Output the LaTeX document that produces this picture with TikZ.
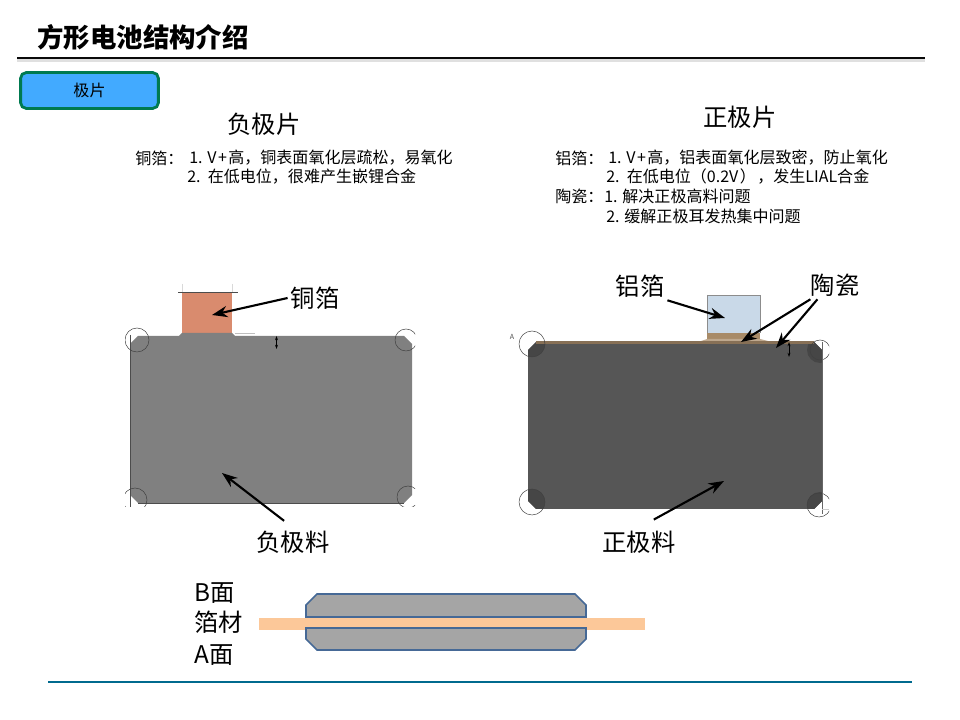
\documentclass[tikz,border=0pt]{standalone}
\usepackage{xcolor}
\usepackage{fontspec}
\setmainfont{Noto Sans CJK SC}
\usetikzlibrary{arrows.meta,positioning}
\definecolor{TitleRule}{RGB}{10,10,10}
\definecolor{TabBlue}{RGB}{66,170,255}
\definecolor{TabGreen}{RGB}{0,122,80}
\definecolor{CopperFoil}{RGB}{217,139,110}
\definecolor{AnodeGray}{RGB}{128,128,128}
\definecolor{CathodeGray}{RGB}{86,86,86}
\definecolor{CathodeDark}{RGB}{70,70,70}
\definecolor{AluFoil}{RGB}{201,217,232}
\definecolor{Ceramic}{RGB}{168,139,104}
\definecolor{CeramicDark}{RGB}{135,112,86}
\definecolor{CoatGray}{RGB}{165,165,165}
\definecolor{CoatEdge}{RGB}{70,105,150}
\definecolor{FoilOrange}{RGB}{252,200,153}
\definecolor{FootBlue}{RGB}{0,106,142}
\tikzset{
    listline/.style={anchor=west, inner sep=0pt, font=\fontsize{11.4}{13}\selectfont},
    bigtext/.style={inner sep=2pt, font=\fontsize{17.3}{20}\selectfont},
    callout/.style={-{Stealth[length=11pt,width=8pt]}, line width=1.5pt, black},
    marker/.style={black!75, line width=0.35pt}
}
\begin{document}
\begin{tikzpicture}[x=0.025cm, y=-0.025cm]
    \useasboundingbox (0,0) rectangle (960,720);

    \node [anchor=west, inner sep=0pt, font=\fontsize{18.8}{22}\selectfont\bfseries] (title) at (37,37) {方形电池结构介绍};
    \fill [black!12] (17,59) rectangle (925,62);
    \draw [TitleRule, line width=1.4pt] (17,58) -- (925,58);
    \node [draw=TabGreen, line width=2pt, rounded corners=4pt, fill=TabBlue, minimum width=98pt, minimum height=25.5pt, inner sep=0pt, font=\fontsize{11.4}{13}\selectfont] (tab) at (89.5,90.5) {极片};

    \node [bigtext] (negtitle) at (264,124) {负极片};
    \node [bigtext] (postitle) at (740,117) {正极片};

    \node [listline] (cuhead) at (135,158) {铜箔：};
    \node [listline] (cuone) at (189,158) {1. V\kern1pt+\kern1pt高，铜表面氧化层疏松，易氧化};
    \node [listline] (cutwo) at (187,177) {2.\ \ 在低电位，很难产生嵌锂合金};

    \node [listline] (alhead) at (555,158) {铝箔：};
    \node [listline] (alone) at (608,158) {1. V\kern1pt+\kern1pt高，铝表面氧化层致密，防止氧化};
    \node [listline] (altwo) at (606,177) {2.\ \ 在低电位（0.2V\kern1pt）\kern1pt，发生LIAL合金};
    \node [listline] (cehead) at (555,196) {陶瓷：};
    \node [listline] (ceone) at (604,196) {1. 解决正极高料问题};
    \node [listline] (cetwo) at (606,216) {2. 缓解正极耳发热集中问题};

    % left plate
    \fill [CopperFoil] (182,292) rectangle (232,334);
    \draw [black!70, line width=0.5pt] (178,292) -- (238,292);
    \draw [black!15, line width=0.4pt] (182,284) -- (182,292) (232,284) -- (232,292);
    \fill [AnodeGray] (130,344) -- (138,336) -- (179,336) -- (182,333) -- (232,333) -- (235,336) -- (404,336) -- (412,344) -- (412,495) -- (404,503) -- (138,503) -- (130,495) -- cycle;
    \draw [black!70, line width=0.5pt] (130,335) -- (130,507) (138,503) -- (404,503);
    \draw [black!25, line width=0.4pt] (235,333) -- (255,333);
    \begin{scope}
        \clip (125,320) rectangle (415,507);
        \foreach \cx/\cy/\cr in {137/340/12, 406/340/11, 135/500/12, 408/497/11}
            \draw [marker] (\cx,\cy) circle [radius=\cr];
    \end{scope}
    \draw [black, line width=0.6pt, {Stealth[length=3pt,width=2pt]}-{Stealth[length=3pt,width=2pt]}] (276.5,336) -- (276.5,349);

    % right plate
    \fill [AluFoil] (707,295) rectangle (760,333);
    \draw [black!45, line width=0.4pt] (707,295) -- (760,295) -- (760,333) (707,295) -- (707,333);
    \fill [Ceramic] (707,333) rectangle (760,342);
    \fill [Ceramic!75] (698,342) -- (707,339) -- (760,339) -- (772,342) -- cycle;
    \fill [CathodeGray] (528,350) -- (536,342) -- (814,342) -- (822,350) -- (822,501) -- (814,509) -- (536,509) -- (528,501) -- cycle;
    \begin{scope}
        \clip (528,350) -- (536,342) -- (814,342) -- (822,350) -- (822,501) -- (814,509) -- (536,509) -- (528,501) -- cycle;
        \foreach \cx/\cy in {532/344, 820/350, 532/502, 820/505}
            \fill [CathodeDark] (\cx,\cy) circle [radius=13];
    \end{scope}
    \fill [CeramicDark] (536,341) rectangle (814,344);
    \begin{scope}
        \clip (515,325) rectangle (829,520);
        \foreach \cx/\cy/\cr in {532/344/13, 820/350/10, 532/502/13, 819/505/12}
            \draw [marker] (\cx,\cy) circle [radius=\cr];
    \end{scope}
    \draw [black!60, line width=0.5pt] (822,342) -- (822,514);
    \draw [black!20, line width=0.5pt] (822,509) -- (829,509);
    \draw [black, line width=0.6pt, {Stealth[length=3pt,width=2pt]}-{Stealth[length=3pt,width=2pt]}] (789,342) -- (789,357);
    \node [inner sep=0pt, font=\fontsize{5}{6}\selectfont, text=black!70] (cornermark) at (512,337) {A};

    % labels and arrows
    \node [bigtext] (culabel) at (315,298) {铜箔};
    \coordinate (cutip) at (212,315);
    \draw [callout] (culabel.west) -- (cutip);
    \node [bigtext] (anodelabel) at (293,542) {负极料};
    \coordinate (anodetip) at (222,473);
    \draw [callout, shorten <=8pt] (anodelabel.north) -- (anodetip);

    \node [bigtext] (allabel) at (640,286) {铝箔};
    \coordinate (altip) at (725,318);
    \draw [callout] (allabel.south east) -- (altip);
    \node [bigtext] (celabel) at (835,285) {陶瓷};
    \coordinate (cetipa) at (741,342);
    \coordinate (cetipb) at (776,348);
    \draw [callout] ([xshift=2pt]celabel.south west) -- (cetipa);
    \draw [callout] ([xshift=7pt]celabel.south west) -- (cetipb);
    \node [bigtext] (cathodelabel) at (639,542) {正极料};
    \coordinate (cathodetip) at (724,481);
    \draw [callout, shorten <=12pt] (cathodelabel.north) -- (cathodetip);

    % coating section
    \fill [FoilOrange] (259,618) rectangle (645,630);
    \draw [CoatEdge, fill=CoatGray, line width=1.1pt] (306,605) -- (317,594) -- (575,594) -- (586,605) -- (586,617) -- (306,617) -- cycle;
    \draw [CoatEdge, fill=CoatGray, line width=1.1pt] (306,639) -- (317,650) -- (575,650) -- (586,639) -- (586,628) -- (306,628) -- cycle;
    \node [bigtext, anchor=west, inner sep=0pt] (sideb) at (194,593) {B面};
    \node [bigtext, anchor=west, inner sep=0pt] (foil) at (194,622) {箔材};
    \node [bigtext, anchor=west, inner sep=0pt] (sidea) at (194,655) {A面};

    \draw [FootBlue, line width=1.3pt] (48,682) -- (912,682);
\end{tikzpicture}
\end{document}
